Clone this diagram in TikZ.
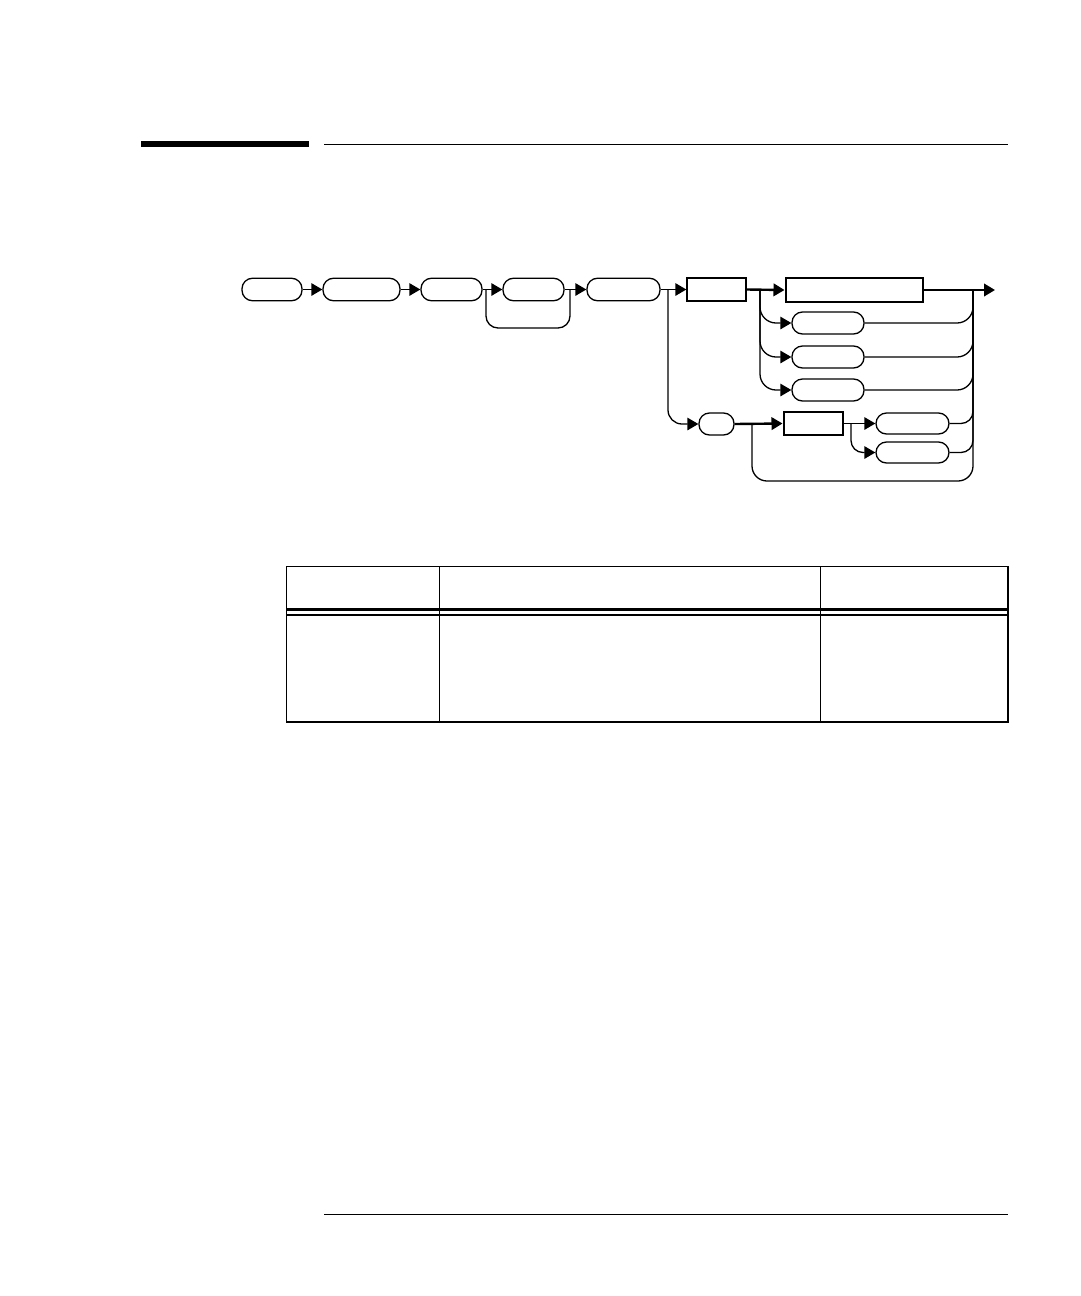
\documentclass[tikz,border=0pt]{standalone}
\usetikzlibrary{arrows.meta}
\begin{document}
\begin{tikzpicture}[x=1pt,y=-1pt,
  ln/.style={line width=1.3pt},
  tk/.style={line width=2.4pt},
  arr/.style={-{Triangle[length=11pt,width=12.5pt]}},
  term/.style={draw,line width=1.3pt,rounded corners=10.5pt,inner sep=0pt,minimum height=22.5pt},
  boxr/.style={draw,line width=1.3pt,inner sep=0pt,minimum height=23pt},
  boxt/.style={draw,line width=2pt,inner sep=0pt,minimum height=23pt},
  tbl/.style={line width=1.5pt}]
\fill[white] (0,0) rectangle (1080,1296);
\useasboundingbox (0,0) rectangle (1080,1296);
% header and footer rules
\fill[black] (141,140.7) rectangle (309,147);
\draw[ln] (324,144.3) -- (1008,144.3);
\draw[ln] (324,1214.3) -- (1008,1214.3);
% nodes
\node[term,minimum width=60pt] (n1) at (272,289.5) {};
\node[term,minimum width=77pt] (n2) at (361.5,289.5) {};
\node[term,minimum width=61pt] (n3) at (451.5,289.5) {};
\node[term,minimum width=61pt] (n4) at (533.5,289.5) {};
\node[term,minimum width=73pt] (n5) at (623.5,289.5) {};
\node[boxr,minimum width=59pt] (r1) at (716.5,289.5) {};
\node[boxt,minimum width=137pt,minimum height=23.5pt] (r2) at (854,290) {};
\node[term,minimum width=72pt,minimum height=22pt] (o1) at (828,323) {};
\node[term,minimum width=72pt,minimum height=22pt] (o2) at (828,357) {};
\node[term,minimum width=72pt,minimum height=22pt] (o3) at (828,390) {};
\node[term,minimum width=35pt,minimum height=22pt] (s) at (716.5,424) {};
\node[boxt,minimum width=59pt,minimum height=22.5pt] (r3) at (813,423.5) {};
\node[term,minimum width=73pt,minimum height=21pt] (p1) at (912.5,423.5) {};
\node[term,minimum width=73pt,minimum height=21pt] (p2) at (912.5,452.5) {};
% coordinates
\coordinate (bpL) at (486,289.5);
\coordinate (bpR) at (570,289.5);
\coordinate (j1) at (668,289.5);
\coordinate (j2) at (760,290);
\coordinate (j3) at (973,290);
\coordinate (j4) at (752,424);
\coordinate (j5) at (851,423.5);
\coordinate (jb) at (973,481);
\coordinate (e) at (995,290);
% main line
\draw[ln,arr] (n1.east) -- (n2.west);
\draw[ln,arr] (n2.east) -- (n3.west);
\draw[ln,arr] (n3.east) -- (n4.west);
\draw[ln,rounded corners=12pt] (bpL) -- (486,328) -- (570,328) -- (bpR);
\draw[ln,arr] (n4.east) -- (n5.west);
\draw[ln,arr] (n5.east) -- (r1.west);
\draw[tk,arr] (r1.east) -- (r2.west);
\draw[tk,arr] (r2.east) -- (e);
% branch to small node
\draw[ln,arr,rounded corners=14pt] (j1) |- (s.west);
\draw[tk,arr] (s.east) -- (r3.west);
% options
\draw[ln,arr,rounded corners=16pt] (j2) |- (o1.west);
\draw[ln,arr,rounded corners=16pt] (j2) |- (o2.west);
\draw[ln,arr,rounded corners=16pt] (j2) |- (o3.west);
\draw[ln,rounded corners=16pt] (o1.east) -| (j3);
\draw[ln,rounded corners=16pt] (o2.east) -| (j3);
\draw[ln,rounded corners=16pt] (o3.east) -| (j3);
% sub options
\draw[ln,arr] (r3.east) -- (p1.west);
\draw[ln,arr,rounded corners=12pt] (j5) |- (p2.west);
\draw[ln,rounded corners=12pt] (p1.east) -| (j3);
\draw[ln,rounded corners=12pt] (p2.east) -| (j3);
% bottom loop
\draw[ln,rounded corners=15pt] (j4) |- (jb) -- (j3);
% table
\draw[tbl] (1008,566.5) -- (286.5,566.5) -- (286.5,722) -- (1008,722);
\draw[line width=2.4pt] (1008,566) -- (1008,722.7);
\draw[tbl] (439.5,566.5) -- (439.5,722);
\draw[tbl] (820.5,566.5) -- (820.5,722);
\draw[line width=2.2pt] (286.5,609.5) -- (1008,609.5);
\draw[line width=2.2pt] (286.5,615) -- (1008,615);
\end{tikzpicture}
\end{document}
